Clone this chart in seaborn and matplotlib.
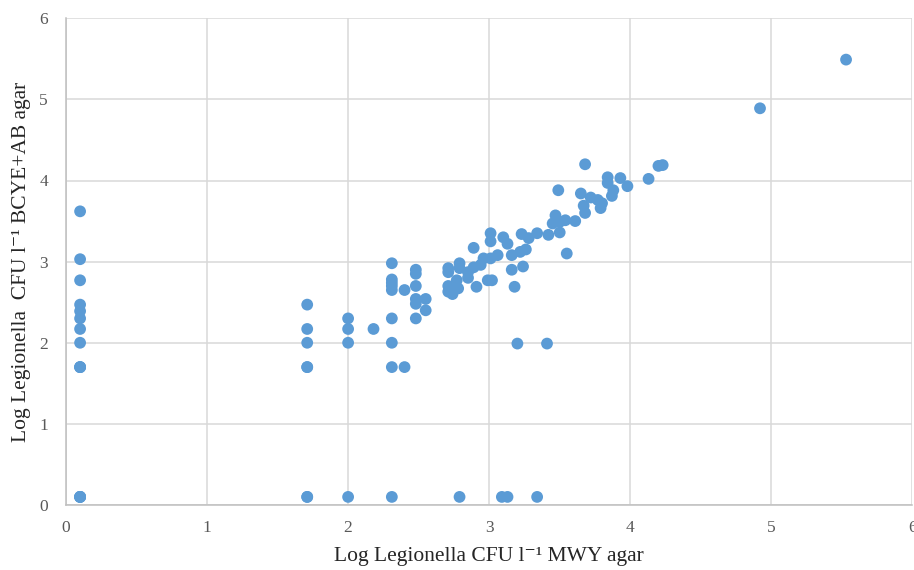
"""Scatter of Legionella counts: MWY agar vs BCYE+AB agar."""

import matplotlib

matplotlib.use("Agg")
import matplotlib.pyplot as plt  # noqa: E402
import pandas as pd  # noqa: E402
import seaborn as sns  # noqa: E402

# log CFU per litre
mwy_log = [
    0.1, 0.1, 0.1, 0.1, 0.1, 0.1, 0.1, 0.1, 0.1, 0.1, 0.1, 0.1, 0.1, 0.1, 0.1,
    1.71, 1.71, 1.71, 1.71, 1.71, 1.71, 1.71,
    2.0, 2.0, 2.0, 2.0,
    2.18,
    2.31, 2.31, 2.31, 2.31, 2.31, 2.31, 2.31, 2.31, 2.31,
    2.40, 2.40,
    2.48, 2.48, 2.48, 2.48, 2.48, 2.48,
    2.55, 2.55,
    2.79, 3.09, 3.13, 3.34,
    3.20, 3.41, 3.18,
    2.71, 2.71, 2.71, 2.71, 2.74, 2.78, 2.79, 2.79, 2.77, 2.85,
    2.85, 2.89, 2.94, 2.96, 3.01, 3.06, 2.89, 2.91, 2.99, 3.02,
    3.01, 3.01, 3.10, 3.13, 3.16, 3.22, 3.26, 3.16, 3.24, 3.23,
    3.28, 3.34, 3.42, 3.50, 3.45, 3.47, 3.50, 3.54, 3.61, 3.55,
    3.49, 3.65, 3.67, 3.68, 3.72, 3.77, 3.80, 3.79, 3.84, 3.84,
    3.87, 3.88, 3.93, 3.98, 3.68, 4.13, 4.20, 4.23, 4.92, 5.53,
]
bcye_log = [
    3.62, 3.03, 2.77, 2.47, 2.39, 2.30, 2.17, 2.00, 1.70, 1.70, 1.70, 0.1, 0.1, 0.1, 0.1,
    2.47, 2.17, 2.00, 1.70, 1.70, 0.1, 0.1,
    2.30, 2.17, 2.00, 0.1,
    2.17,
    2.98, 2.78, 2.74, 2.70, 2.65, 2.30, 2.00, 1.70, 0.1,
    2.65, 1.70,
    2.90, 2.85, 2.70, 2.54, 2.48, 2.30,
    2.54, 2.40,
    0.1, 0.1, 0.1, 0.1,
    1.99, 1.99, 2.69,
    2.92, 2.87, 2.70, 2.63, 2.60, 2.67, 2.98, 2.92, 2.77, 2.87,
    2.80, 2.93, 2.96, 3.04, 3.04, 3.08, 3.17, 2.69, 2.77, 2.77,
    3.35, 3.25, 3.30, 3.22, 3.08, 3.12, 3.15, 2.90, 2.94, 3.34,
    3.29, 3.35, 3.33, 3.36, 3.47, 3.57, 3.49, 3.51, 3.50, 3.10,
    3.88, 3.84, 3.69, 3.60, 3.79, 3.76, 3.72, 3.66, 4.04, 3.97,
    3.81, 3.88, 4.03, 3.93, 4.20, 4.02, 4.18, 4.19, 4.89, 5.49,
]

x_ticks = [0, 1, 2, 3, 4, 5, 6]
y_ticks = [0, 1, 2, 3, 4, 5, 6]

df = pd.DataFrame({"mwy": mwy_log, "bcye": bcye_log})

sns.set_style("white")
plt.rcParams["font.family"] = ["Liberation Serif", "DejaVu Serif"]

fig = plt.figure(figsize=(9.14, 5.70), dpi=100)
ax = fig.add_axes([0.0722, 0.114, 0.926, 0.854])

sns.scatterplot(
    data=df, x="mwy", y="bcye", ax=ax,
    color="#5B9BD5", s=72, edgecolor="none", zorder=3, clip_on=False,
)

ax.set_xlim(0, 6)
ax.set_ylim(0, 6)
ax.set_xticks(x_ticks)
ax.set_yticks(y_ticks)
ax.grid(True, color="#D9D9D9", lw=1.1, zorder=0)
ax.set_axisbelow(True)
for side in ("top", "right"):
    ax.spines[side].set_visible(False)
for side in ("left", "bottom"):
    ax.spines[side].set_color("#BFBFBF")
    ax.spines[side].set_linewidth(1.1)
ax.tick_params(axis="both", length=0, labelsize=12.5, colors="#595959")
ax.tick_params(axis="x", pad=11)
ax.tick_params(axis="y", pad=13)

ax.set_xlabel("Log Legionella CFU l\u207b\u00b9 MWY agar",
              fontsize=15.5, color="#262626", labelpad=8)
ax.set_ylabel("Log Legionella  CFU l\u207b\u00b9 BCYE+AB agar",
              fontsize=15.5, color="#262626", labelpad=6)

fig.savefig("out.png", dpi=100)
plt.close(fig)
